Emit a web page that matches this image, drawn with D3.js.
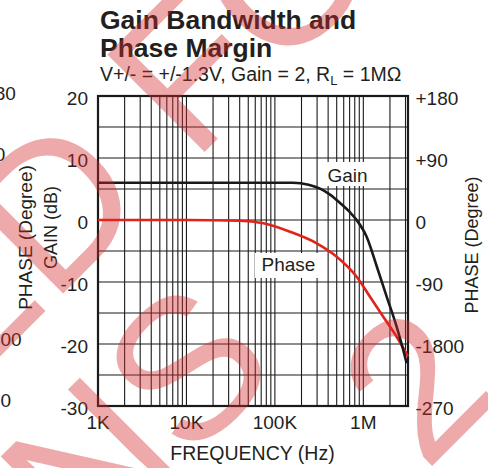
<!DOCTYPE html>
<html>
<head>
<meta charset="utf-8">
<script src="https://cdn.jsdelivr.net/npm/d3@7"></script>
<style>
  html, body { margin: 0; padding: 0; background: #fff; }
  svg { display: block; font-family: "Liberation Sans", Arial, sans-serif; }
</style>
</head>
<body>
<div id="chart"></div>
<script>
// chart values
const freqTicks = [1e3, 1e4, 1e5, 1e6];
const freqLabels = ['1K', '10K', '100K', '1M'];
const gainTicks = [20, 10, 0, -10, -20, -30];
const phaseTicks = [180, 90, 0, -90, -180, -270];
const phaseLabels = ['+180', '+90', '0', '-90', '-1800', '-270'];

const gainFreq = [1e3, 1e4, 1e5, 1.6e5, 2.4e5, 3.2e5, 4.2e5, 5.5e5, 7e5, 8.4e5, 1.09e6, 1.42e6, 1.84e6, 2.38e6, 2.83e6, 3.09e6];
const gainDb = [6, 6, 6, 6, 5.7, 5.1, 4.1, 2.7, 1.3, 0, -2.7, -7.5, -12.4, -17.2, -21, -23.1];

const phaseFreq = [1e3, 1e4, 4e4, 7.4e4, 1.48e5, 2.97e5, 5e5, 8.4e5, 1.19e6, 1.68e6, 2.38e6, 3.2e6];
const phaseDeg = [0, 0, -1, -4.8, -17, -33.8, -53.3, -82.3, -111.3, -140.4, -169.4, -198];

// labels of the neighbouring chart, only the visible ones (cut at the left edge)
const ghostLabels = ['+180', '+90', '-1800', '-270'];
const ghostRows = [0, 1, 4, 5];
// watermark lines
const watermark = ['NOT RECOMMENDED FOR', 'NEW DESIGNS', '2'];

const width = 488, height = 468;
const margin = { top: 96, right: 80, bottom: 62, left: 98 };
const ink = '#231f20';

const svg = d3.select('#chart').append('svg')
  .attr('width', width)
  .attr('height', height);

const x = d3.scaleLog().domain([1e3, 3.2e6]).range([margin.left, width - margin.right]);
const y = d3.scaleLinear().domain([-30, 20]).range([height - margin.bottom, margin.top]);
const yPhase = d3.scaleLinear().domain([-270, 180]).range([height - margin.bottom, margin.top]);

// titles
svg.append('text').attr('x', 100).attr('y', 28.5)
  .attr('font-size', 26.5).attr('font-weight', 'bold').attr('fill', ink)
  .text('Gain Bandwidth and');
svg.append('text').attr('x', 100).attr('y', 57)
  .attr('font-size', 26.5).attr('font-weight', 'bold').attr('fill', ink)
  .text('Phase Margin');
const sub = svg.append('text').attr('x', 100).attr('y', 81)
  .attr('font-size', 19.5).attr('fill', ink);
sub.append('tspan').text('V+/- = +/-1.3V, Gain = 2, R');
sub.append('tspan').attr('font-size', 13).attr('dy', 4).text('L');
sub.append('tspan').attr('dy', -4).text(' = 1M\u03A9');

// grid
const minor = [];
freqTicks.forEach(d => d3.range(1, 10).forEach(m => { if (d * m <= 3.2e6) minor.push(d * m); }));
const grid = svg.append('g').attr('stroke', '#1a1a1a').attr('stroke-width', 1.1);
grid.selectAll('.v').data(minor).join('line').attr('class', 'v')
  .attr('x1', d => x(d)).attr('x2', d => x(d))
  .attr('y1', y(20)).attr('y2', y(-30));
grid.selectAll('.h').data(d3.range(-30, 21, 5)).join('line').attr('class', 'h')
  .attr('x1', x(1e3)).attr('x2', x(3.2e6))
  .attr('y1', d => y(d)).attr('y2', d => y(d));

svg.append('rect')
  .attr('x', x(1e3)).attr('y', y(20))
  .attr('width', x(3.2e6) - x(1e3)).attr('height', y(-30) - y(20))
  .attr('fill', 'none').attr('stroke', '#1a1a1a').attr('stroke-width', 2.2);

// curves
const lineGain = d3.line().x((d, i) => x(gainFreq[i])).y(d => y(d)).curve(d3.curveMonotoneX);
const linePhase = d3.line().x((d, i) => x(phaseFreq[i])).y(d => yPhase(d)).curve(d3.curveMonotoneX);

svg.append('path').datum(phaseDeg).attr('d', linePhase)
  .attr('fill', 'none').attr('stroke', '#e2231a').attr('stroke-width', 2.6);
svg.append('path').datum(gainDb).attr('d', lineGain)
  .attr('fill', 'none').attr('stroke', '#1a1a1a').attr('stroke-width', 2.6);

// curve labels with white boxes
svg.append('rect').attr('x', 322).attr('y', 162).attr('width', 50).attr('height', 24).attr('fill', '#fff');
svg.append('text').attr('x', 327.5).attr('y', 182).attr('font-size', 19).attr('fill', ink).text('Gain');
svg.append('rect').attr('x', 255).attr('y', 253).attr('width', 67).attr('height', 25).attr('fill', '#fff');
svg.append('text').attr('x', 261.5).attr('y', 271).attr('font-size', 19).attr('fill', ink).text('Phase');

// axis labels
svg.append('g').selectAll('text').data(gainTicks).join('text')
  .attr('x', 88).attr('y', d => y(d) + 8.5)
  .attr('text-anchor', 'end').attr('font-size', 19).attr('fill', ink)
  .text(d => d);
svg.append('g').selectAll('text').data(phaseTicks).join('text')
  .attr('x', 415.5).attr('y', d => yPhase(d) + 8.5)
  .attr('font-size', 19).attr('fill', ink)
  .text((d, i) => phaseLabels[i]);
svg.append('g').selectAll('text').data(freqTicks).join('text')
  .attr('x', d => x(d)).attr('y', 429)
  .attr('text-anchor', 'middle').attr('font-size', 19).attr('fill', ink)
  .text((d, i) => freqLabels[i]);

svg.append('text').attr('x', 252.5).attr('y', 460)
  .attr('text-anchor', 'middle').attr('font-size', 19.5).attr('fill', ink)
  .text('FREQUENCY (Hz)');
svg.append('text').attr('transform', 'translate(57,227.5) rotate(-90)')
  .attr('text-anchor', 'middle').attr('font-size', 18).attr('fill', ink)
  .text('GAIN (dB)');
svg.append('text').attr('transform', 'translate(478,245) rotate(-90)')
  .attr('text-anchor', 'middle').attr('font-size', 18).attr('fill', ink)
  .text('PHASE (Degree)');

// neighbour chart remnants
svg.append('text').attr('transform', 'translate(32,237.5) rotate(-90)')
  .attr('text-anchor', 'middle').attr('font-size', 19).attr('fill', ink)
  .text('PHASE (Degree)');
svg.append('g').selectAll('text').data(ghostLabels).join('text')
  .attr('x', -27).attr('y', (d, i) => 100 + ghostRows[i] * 61.4)
  .attr('font-size', 19).attr('fill', ink)
  .text(d => d);

// watermark
const wm = svg.append('g').attr('transform', 'rotate(-45)')
  .attr('fill', '#d42a2a').attr('fill-opacity', 0.4).attr('font-size', 200);
wm.append('text').attr('x', 443).attr('y', 252).attr('text-anchor', 'end').text(watermark[0]);
wm.append('text').attr('x', -61).attr('y', 461).attr('text-anchor', 'end').text(watermark[1]);
wm.append('text').attr('x', -34).attr('y', 635).text(watermark[2]);
</script>
</body>
</html>
